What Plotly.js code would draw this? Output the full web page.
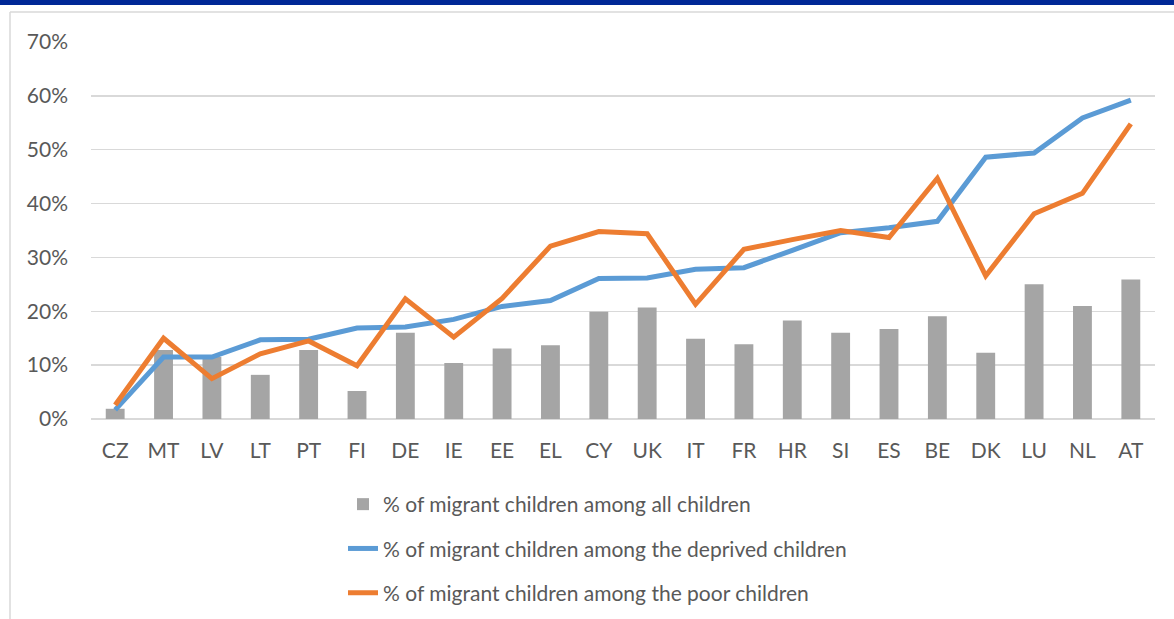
<!DOCTYPE html>
<html>
<head>
<meta charset="utf-8">
<script src="https://cdn.plot.ly/plotly-3.0.1.min.js"></script>
<style>
  html, body { margin: 0; padding: 0; background: #ffffff; }
  #chart { width: 1174px; height: 619px; }
</style>
</head>
<body>
<div id="chart"></div>
<script>
// Country codes along the x axis
const countries = ['CZ', 'MT', 'LV', 'LT', 'PT', 'FI', 'DE', 'IE', 'EE', 'EL', 'CY',
                   'UK', 'IT', 'FR', 'HR', 'SI', 'ES', 'BE', 'DK', 'LU', 'NL', 'AT'];

// Share of migrant children (%) by reference population
const allChildren = [1.9, 12.8, 11.5, 8.2, 12.8, 5.2, 16.0, 10.4, 13.1, 13.7, 19.9,
                     20.7, 14.9, 13.9, 18.3, 16.0, 16.7, 19.1, 12.3, 25.0, 21.0, 25.9];
const deprivedChildren = [1.7, 11.5, 11.5, 14.7, 14.8, 16.9, 17.1, 18.5, 20.9, 22.0, 26.1,
                          26.2, 27.8, 28.1, 31.3, 34.6, 35.5, 36.7, 48.6, 49.4, 55.9, 59.2];
const poorChildren = [2.6, 15.0, 7.5, 12.1, 14.5, 9.9, 22.3, 15.2, 22.4, 32.1, 34.8,
                      34.4, 21.3, 31.5, 33.3, 35.0, 33.7, 44.7, 26.6, 38.1, 41.9, 54.8];

const seriesNames = [
  '% of migrant children among all children',
  '% of migrant children among the deprived children',
  '% of migrant children among the poor children'
];

const FONT = 'Lato, "Open Sans", "Liberation Sans", sans-serif';
const FONT_SIZE = 21;
const TEXT_GREY = '#595959';
const GRID = '#D9D9D9';

const traces = [
  {
    type: 'bar', x: countries, y: allChildren, name: seriesNames[0],
    marker: { color: '#A5A5A5' }, width: 0.39, legendgroup: 'a',
    hoverinfo: 'x+y'
  },
  {
    type: 'scatter', mode: 'lines', x: countries, y: deprivedChildren, name: seriesNames[1],
    line: { color: '#5B9BD5', width: 5, shape: 'linear' }, legendgroup: 'b',
    hoverinfo: 'x+y'
  },
  {
    type: 'scatter', mode: 'lines', x: countries, y: poorChildren, name: seriesNames[2],
    line: { color: '#ED7D31', width: 5, shape: 'linear' }, legendgroup: 'c',
    hoverinfo: 'x+y'
  }
];

// Plot area in pixels: x 91..1155, y 42..419
const L = 91, R = 1155, T = 42, B = 419, W = 1174, H = 619;
const px = v => (v - L) / (R - L);
const py = v => (B - v) / (B - T);

const layout = {
  width: W, height: H,
  margin: { l: L, r: W - R, t: T, b: H - B, pad: 0, autoexpand: false },
  paper_bgcolor: '#ffffff', plot_bgcolor: '#ffffff',
  font: { family: FONT, size: FONT_SIZE, color: TEXT_GREY },
  showlegend: true,
  xaxis: {
    type: 'category', categoryorder: 'array', categoryarray: countries,
    showgrid: false, zeroline: false, showline: false,
    ticks: '', ticklabelstandoff: 17,
    tickfont: { family: FONT, size: FONT_SIZE, color: TEXT_GREY },
    fixedrange: true
  },
  yaxis: {
    range: [0, 70], dtick: 10, tick0: 0, ticksuffix: '%',
    showgrid: true, gridcolor: GRID, gridwidth: 1.5,
    zeroline: true, zerolinecolor: GRID, zerolinewidth: 1.5,
    showline: false, ticks: '', ticklabelstandoff: 22,
    tickfont: { family: FONT, size: FONT_SIZE, color: TEXT_GREY },
    fixedrange: true
  },
  legend: {
    orientation: 'v', x: px(343), xanchor: 'left', y: py(484), yanchor: 'top',
    traceorder: 'grouped', tracegroupgap: 14,
    font: { family: FONT, size: FONT_SIZE, color: TEXT_GREY },
    bgcolor: 'rgba(0,0,0,0)', borderwidth: 0
  },
  shapes: [
    // dark header band
    { type: 'rect', xref: 'paper', yref: 'paper', layer: 'above',
      x0: px(0), x1: px(W), y0: py(5), y1: py(-2),
      fillcolor: '#002896', line: { width: 0 } },
    // chart frame: top and left edges
    { type: 'line', xref: 'paper', yref: 'paper', layer: 'below',
      x0: px(10), x1: px(W + 5), y0: py(12), y1: py(12),
      line: { color: GRID, width: 1.5 } },
    { type: 'line', xref: 'paper', yref: 'paper', layer: 'below',
      x0: px(10), x1: px(10), y0: py(12), y1: py(H + 5),
      line: { color: GRID, width: 1.5 } }
  ]
};

Plotly.newPlot('chart', traces, layout, { displayModeBar: false, staticPlot: true });
</script>
</body>
</html>
